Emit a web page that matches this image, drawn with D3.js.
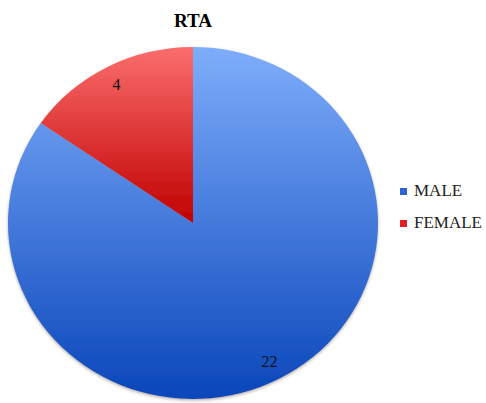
<!DOCTYPE html>
<html>
<head>
<meta charset="utf-8">
<script src="https://cdn.jsdelivr.net/npm/d3@7"></script>
<style>
    body { margin: 0; background: #fff; }
</style>
</head>
<body>
<div id="chart"></div>
<script>
// data
var categories = ["MALE", "FEMALE"];
var values = [22, 4];
var chartTitle = "RTA";

// colours (top, bottom of gradient)
var colorTop = ["#7eadfb", "#fb6d6d"];
var colorBottom = ["#0a46ba", "#c00000"];
var legendColor = ["#2f62d6", "#e02020"];

var fontFamily = "'Times New Roman', 'Liberation Serif', 'DejaVu Serif', serif";

var width = 486, height = 403;
var cx = 193, cy = 223;
var ry = 176, rx = 185;

var svg = d3.select("#chart").append("svg")
    .attr("width", width)
    .attr("height", height)
    .attr("font-family", fontFamily);

var defs = svg.append("defs");

// gradients per slice
categories.forEach(function (c, i) {
    var g = defs.append("linearGradient")
        .attr("id", "grad" + i)
        .attr("x1", 0).attr("y1", 0)
        .attr("x2", 0).attr("y2", 1);
    g.append("stop").attr("offset", "0%").attr("stop-color", colorTop[i]);
    g.append("stop").attr("offset", "100%").attr("stop-color", colorBottom[i]);
});

var shadow = defs.append("filter").attr("id", "shadow")
    .attr("x", "-10%").attr("y", "-10%").attr("width", "120%").attr("height", "120%");
shadow.append("feDropShadow")
    .attr("dx", 0).attr("dy", 1.5)
    .attr("stdDeviation", 1.5)
    .attr("flood-color", "#5a4a30")
    .attr("flood-opacity", 0.45);

// title
svg.append("text")
    .attr("x", cx)
    .attr("y", 27)
    .attr("text-anchor", "middle")
    .attr("font-family", fontFamily)
    .attr("font-size", 19)
    .attr("font-weight", "bold")
    .text(chartTitle);

var pie = d3.pie().sort(null).value(d => d);
var arcs = pie(values);

var arc = d3.arc().innerRadius(0).outerRadius(ry);
var labelArc = d3.arc().innerRadius(ry * 0.89).outerRadius(ry * 0.89);

// pie group, stretched slightly horizontally
var g = svg.append("g")
    .attr("transform", "translate(" + cx + "," + cy + ") scale(" + (rx / ry) + ",1)")
    .attr("filter", "url(#shadow)");

g.selectAll(".slice")
    .data(arcs)
    .enter().append("path")
    .attr("class", "slice")
    .attr("d", arc)
    .attr("fill", (d, i) => "url(#grad" + i + ")");

// value labels
svg.selectAll(".val")
    .data(arcs)
    .enter().append("text")
    .attr("class", "val")
    .attr("x", d => cx + labelArc.centroid(d)[0] * rx / ry)
    .attr("y", d => cy + labelArc.centroid(d)[1])
    .attr("dy", "0.35em")
    .attr("text-anchor", "middle")
    .attr("font-family", fontFamily)
    .attr("font-size", 16)
    .attr("fill", "#111")
    .text(d => d.data);

// legend
var legend = svg.selectAll(".legend")
    .data(categories)
    .enter().append("g")
    .attr("class", "legend")
    .attr("transform", (d, i) => "translate(400," + (188 + i * 32) + ")");

legend.append("rect")
    .attr("width", 7)
    .attr("height", 7)
    .attr("fill", (d, i) => legendColor[i]);

legend.append("text")
    .attr("x", 14)
    .attr("y", 8)
    .attr("font-family", fontFamily)
    .attr("font-size", 17)
    .attr("fill", "#222")
    .text(d => d);
</script>
</body>
</html>
